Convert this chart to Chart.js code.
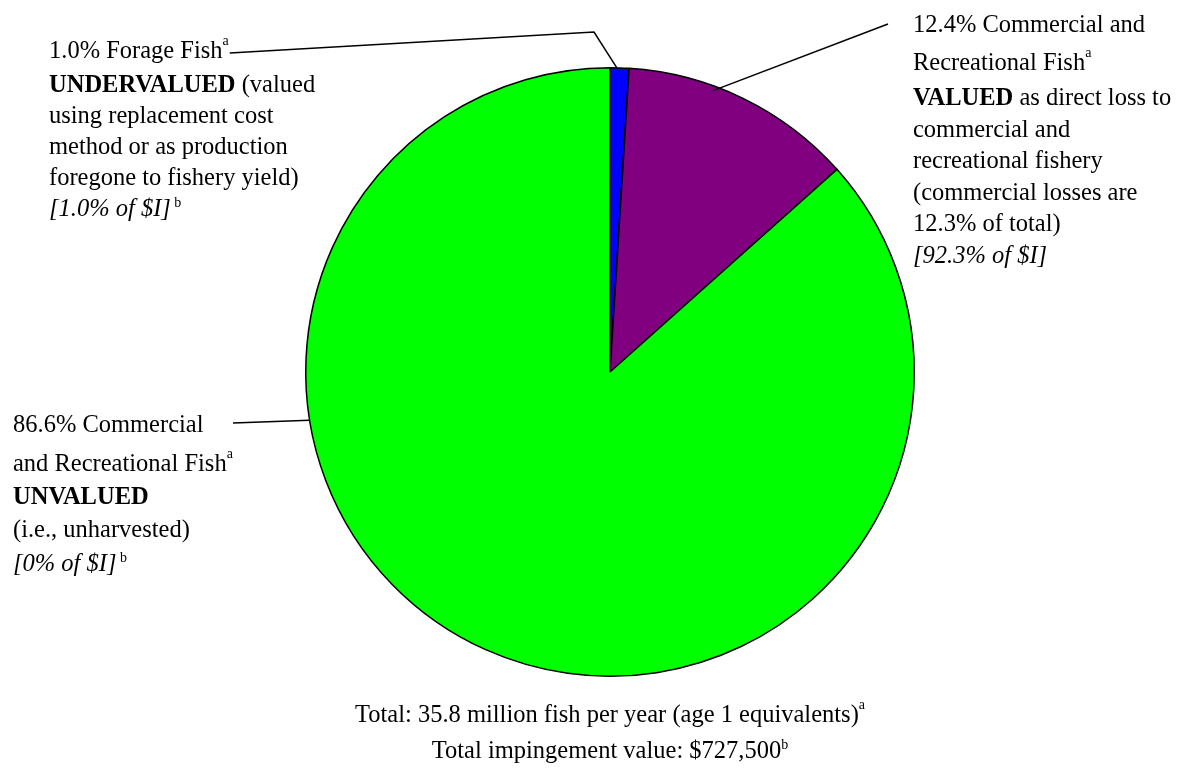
<!DOCTYPE html>
<html>
<head>
<meta charset="utf-8">
<script src="https://cdn.jsdelivr.net/npm/chart.js@4"></script>
<style>
  body { margin: 0; background: #fff; }
  #wrap { width: 1191px; height: 769px; }
</style>
</head>
<body>
<div id="wrap"><canvas id="chart" width="1191" height="769"></canvas></div>
<script>
const categories = ['Forage Fish', 'Commercial and Recreational Fish (valued)', 'Commercial and Recreational Fish (unvalued)'];
const shares = [1.0, 12.4, 86.6];
const sliceColors = ['#0000ff', '#800080', '#00ff00'];

// label texts, one list of runs per line: [text, style]  n=normal b=bold i=italic a/s=superscript
const forageLines = [
    [['1.0% Forage Fish', 'n'], ['a', 'a']],
    [['UNDERVALUED', 'b'], [' (valued', 'n']],
    [['using replacement cost', 'n']],
    [['method or as production', 'n']],
    [['foregone to fishery yield)', 'n']],
    [['[1.0% of $I]', 'i'], [' b', 's']]
];
const valuedLines = [
    [['12.4% Commercial and', 'n']],
    [['Recreational Fish', 'n'], ['a', 'a']],
    [['VALUED', 'b'], [' as direct loss to', 'n']],
    [['commercial and', 'n']],
    [['recreational fishery', 'n']],
    [['(commercial losses are', 'n']],
    [['12.3% of total)', 'n']],
    [['[92.3% of $I]', 'i']]
];
const unvaluedLines = [
    [['86.6% Commercial', 'n']],
    [['and Recreational Fish', 'n'], ['a', 'a']],
    [['UNVALUED', 'b']],
    [['(i.e., unharvested)', 'n']],
    [['[0% of $I]', 'i'], [' b', 's']]
];
const totalLines = [
    [['Total: 35.8 million fish per year (age 1 equivalents)', 'n'], ['a', 'a']],
    [['Total impingement value: $727,500', 'n'], ['b', 's']]
];

const FAM = '"Liberation Serif", "Times New Roman", serif';
function fontFor(st) {
    if (st === 'b') return 'bold 24.5px ' + FAM;
    if (st === 'i') return 'italic 24.5px ' + FAM;
    if (st === 's' || st === 'a') return '14px ' + FAM;
    return '24.5px ' + FAM;
}
function lineWidth(ctx, runs) {
    let w = 0;
    runs.forEach(r => { ctx.font = fontFor(r[1]); w += ctx.measureText(r[0]).width; });
    return w;
}
function drawLine(ctx, runs, x, y, centered) {
    if (centered) x -= lineWidth(ctx, runs) / 2;
    runs.forEach(r => {
        ctx.font = fontFor(r[1]);
        let dy = 0;
        if (r[1] === 'a') dy = -13;
        if (r[1] === 's') dy = -9;
        ctx.fillText(r[0], x, y + dy);
        x += ctx.measureText(r[0]).width;
    });
    return x;
}
function drawBlock(ctx, lines, x, baselines, centered) {
    let ends = [];
    lines.forEach((runs, i) => ends.push(drawLine(ctx, runs, x, baselines[i], centered)));
    return ends;
}
// point on a slice: frac along its angle span, k of its radius
function slicePoint(arc, frac, k) {
    const a = arc.startAngle + frac * (arc.endAngle - arc.startAngle);
    return [arc.x + Math.cos(a) * arc.outerRadius * k, arc.y + Math.sin(a) * arc.outerRadius * k];
}

const labelsPlugin = {
    id: 'labels',
    afterDraw(chart) {
        const ctx = chart.ctx;
        const arcs = chart.getDatasetMeta(0).data;
        ctx.save();
        ctx.fillStyle = '#000';
        ctx.textBaseline = 'alphabetic';
        const e1 = drawBlock(ctx, forageLines, 49, [58, 92, 123, 154, 185, 216], false);
        drawBlock(ctx, valuedLines, 913, [32, 70, 105, 137, 168, 200, 231, 263], false);
        drawBlock(ctx, unvaluedLines, 13, [432, 471, 504, 537, 571], false);
        drawBlock(ctx, totalLines, 610, [722, 758], true);

        ctx.strokeStyle = '#000';
        ctx.lineWidth = 1.5;
        let p = slicePoint(arcs[0], 0.36, 1.0);
        ctx.beginPath();
        ctx.moveTo(e1[0] + 1, 53);
        ctx.lineTo(594, 32);
        ctx.lineTo(p[0], p[1]);
        ctx.stroke();

        p = slicePoint(arcs[1], 0.37, 0.985);
        ctx.beginPath();
        ctx.moveTo(p[0], p[1]);
        ctx.lineTo(888, 24);
        ctx.stroke();

        p = slicePoint(arcs[2], 0.682, 1.0);
        ctx.beginPath();
        ctx.moveTo(233, 423);
        ctx.lineTo(p[0], p[1]);
        ctx.stroke();
        ctx.restore();
    }
};

new Chart(document.getElementById('chart'), {
    type: 'pie',
    data: {
        labels: categories,
        datasets: [{
            data: shares,
            backgroundColor: sliceColors,
            borderColor: '#000',
            borderWidth: 1.5
        }]
    },
    options: {
        responsive: false,
        animation: false,
        layout: { padding: { top: 67, bottom: 92, left: 29, right: 0 } },
        plugins: {
            legend: { display: false },
            tooltip: { enabled: false }
        }
    },
    plugins: [labelsPlugin]
});
</script>
</body>
</html>
